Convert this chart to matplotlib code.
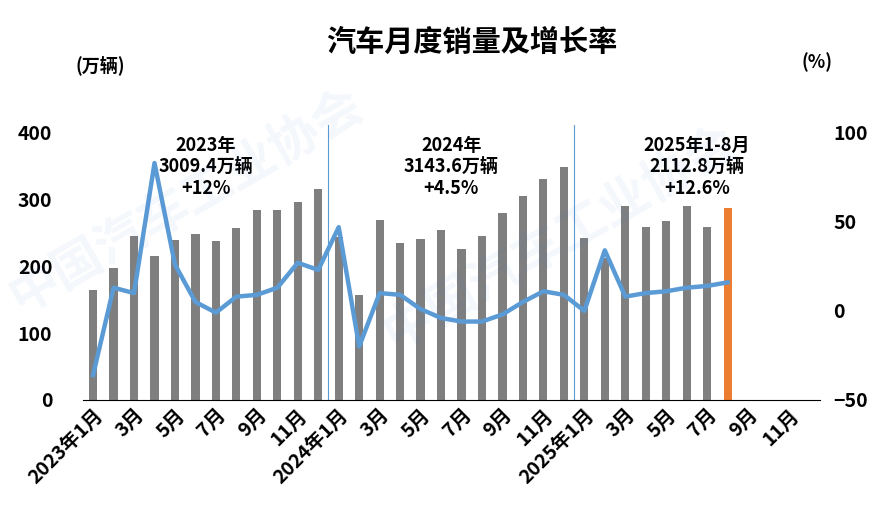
import matplotlib
matplotlib.use("Agg")
import matplotlib.pyplot as plt
import numpy as np

plt.rcParams['font.family'] = ['Noto Sans CJK SC', 'DejaVu Sans']

sales = [165, 198, 245, 216, 239, 249, 238, 258, 285, 285, 297, 316,
         244, 157, 270, 235, 241, 255, 226, 246, 280, 306, 331, 349,
         243, 213, 291, 259, 268, 291, 259, 287]
growth = [-36, 13, 10, 83, 26, 5, -1, 8, 9, 13, 27, 23,
          47, -20, 10, 9, 1, -4, -6, -6, -2, 5, 11, 9,
          0, 34, 8, 10, 11, 13, 14, 16]
tick_labels = ['2023年1月', '3月', '5月', '7月', '9月', '11月',
               '2024年1月', '3月', '5月', '7月', '9月', '11月',
               '2025年1月', '3月', '5月', '7月', '9月', '11月']
notes = ['2023年\n3009.4万辆\n+12%', '2024年\n3143.6万辆\n+4.5%', '2025年1-8月\n2112.8万辆\n+12.6%']

fig = plt.figure(figsize=(8.91, 5.29), dpi=100)
ax = fig.add_axes([0.093, 0.244, 0.827, 0.505])
x = np.arange(len(sales))
colors = ['#7f7f7f'] * (len(sales) - 1) + ['#ed7d31']
ax.bar(x, sales, width=0.4, color=colors, zorder=2)
ax.set_xlim(-0.5, 35.5)
ax.set_ylim(0, 400)
ax.set_yticks([0, 100, 200, 300, 400])
ax.tick_params(axis='y', length=0, labelsize=14, pad=22)
for l in ax.get_yticklabels():
    l.set_fontweight('bold')
ax.set_xticks(np.arange(0, 36, 2))
ax.set_xticklabels(tick_labels, rotation=45, ha='right', rotation_mode='anchor',
                   fontsize=14, fontweight='bold')
ax.tick_params(axis='x', length=0, pad=4)
for s in ['top', 'right', 'left']:
    ax.spines[s].set_visible(False)
ax.spines['bottom'].set_color('black')

ax2 = ax.twinx()
ax2.plot(x, growth, color='#5b9bd5', lw=3.2, zorder=3)
ax2.set_ylim(-50, 100)
ax2.set_yticks([-50, 0, 50, 100])
ax2.tick_params(axis='y', length=0, labelsize=14, pad=10)
for l in ax2.get_yticklabels():
    l.set_fontweight('bold')
for s in ax2.spines.values():
    s.set_visible(False)

for xv in [11.5, 23.5]:
    ax.axvline(xv, ymin=0, ymax=1.03, color='#5b9bd5', lw=0.8, clip_on=False, zorder=1)
for xc, t in zip([5.5, 17.5, 29.5], notes):
    ax.text(xc, 395, t, ha='center', va='top', fontsize=13, fontweight='bold', linespacing=1.15)

fig.text(0.53, 0.92, '汽车月度销量及增长率', ha='center', va='center', fontsize=21, fontweight='bold')
fig.text(0.085, 0.877, '(万辆)', ha='left', va='center', fontsize=13, fontweight='bold')
fig.text(0.9, 0.882, '(%)', ha='left', va='center', fontsize=13, fontweight='bold')

for wx, wy in [(0.0, 0.62), (0.42, 0.55)]:
    fig.text(wx, wy, '中国汽车工业协会', fontsize=36, fontweight='bold', color='#4472c4',
             alpha=0.06, rotation=30, ha='left', va='center')

fig.savefig('out.png', dpi=100)
